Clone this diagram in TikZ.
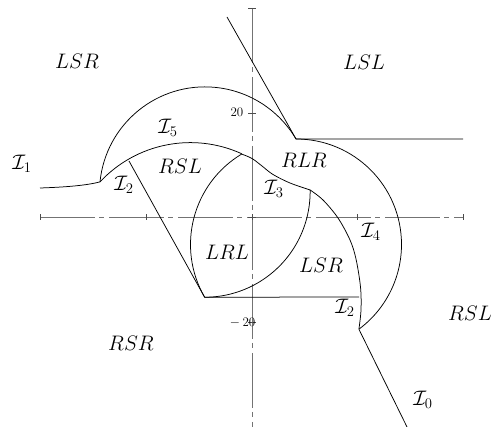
\RequirePackage{fix-cm}
\documentclass[tikz,border=0pt]{standalone}
\begin{document}
\begin{tikzpicture}[x=1pt,y=1pt]
\tikzset{
 curve/.style={black, line width=0.75pt},
 axisline/.style={draw=black!55, line width=0.9pt, dash pattern=on 55pt off 4pt on 5pt off 5pt},
 tickmark/.style={draw=black!70, line width=0.7pt},
 lab/.style={inner sep=0pt, font=\fontsize{21}{25}\selectfont},
 numlab/.style={inner sep=0pt, font=\fontsize{13}{15}\selectfont},
}
\useasboundingbox (0,0) rectangle (494,427);
% key points
\coordinate (O) at (252,210);
\coordinate (C1) at (204.6,235.2);
\coordinate (C2) at (296,182.5);
\coordinate (C3) at (190.4,160.8);
\coordinate (A) at ([shift={(137:123.6)}]C3);
\coordinate (K) at ([shift={(90:105.5)}]C2);
\coordinate (P) at ([shift={(-53.4:105.5)}]C2);
\coordinate (J) at ([shift={(121:105.5)}]C2);
\coordinate (B) at ([shift={(210:105.5)}]C2);
\coordinate (Q) at ([shift={(1:105.5)}]C1);
\coordinate (Ttop) at (227,410);
\coordinate (Kright) at (463,288);
\coordinate (Istart) at (40,239);
\coordinate (Ls) at (129,266);
\coordinate (Be) at (359,130);
\coordinate (Pend) at (407.5,-1);
% axes
\draw[axisline] (40,210) -- (463,210);
\draw[axisline] (252,419) -- (252,-1);
\foreach \x in {40,146,252,357,463} \draw[tickmark] (\x,207) -- (\x,213);
\foreach \y in {419,314,210,105} \draw[tickmark] (248,\y) -- (256,\y);
\node[numlab, anchor=east] (n20) at (243.5,315) {20};
\node[numlab, anchor=east] (nm20) at (255.5,104.3) {$-$\hspace{2.5pt}20};
% curves
\draw[curve] (Istart) .. controls (70,240) and (88,242) .. (A);
\draw[curve] (A) arc[start angle=174.3, end angle=30.4, radius=105.5];
\draw[curve] (K) arc[start angle=90, end angle=-53.4, radius=105.5];
\draw[curve] (J) arc[start angle=121, end angle=210, radius=105.5];
\draw[curve] (B) arc[start angle=-90, end angle=1, radius=105.5];
\draw[curve] (A) arc[start angle=137, end angle=65.4, radius=123.6];
\draw[curve] plot[smooth, tension=0.55] coordinates {(J) (252,268.5) (262,261) (273,252.5) (290,244) (Q)};
\draw[curve] plot[smooth, tension=0.55] coordinates {(Q) (323,227) (338,209) (350,187) (356,168) (360.5,140) (361,117) (P)};
\draw[curve] (Ttop) -- (K) -- (Kright);
\draw[curve] (Ls) -- (B) -- (Be);
\draw[curve] (P) -- (Pend);
% labels
\node[lab] (lsr1) at (77,366) {$LSR$};
\node[lab] (lsl) at (364,365) {$LSL$};
\node[lab] (i1) at (22,263) {$\mathcal{I}_1$};
\node[lab] (i5) at (168,299) {$\mathcal{I}_5$};
\node[lab] (rsl1) at (180,261) {$RSL$};
\node[lab] (i2a) at (124,242) {$\mathcal{I}_2$};
\node[lab] (rlr) at (304,267) {$RLR$};
\node[lab] (i3) at (274,238) {$\mathcal{I}_3$};
\node[lab] (i4) at (371,195) {$\mathcal{I}_4$};
\node[lab] (lrl) at (227,175) {$LRL$};
\node[lab] (lsr2) at (321,162) {$LSR$};
\node[lab] (i2b) at (345,119) {$\mathcal{I}_2$};
\node[lab] (rsl2) at (470,114) {$RSL$};
\node[lab] (rsr) at (131,84) {$RSR$};
\node[lab] (i0) at (423,27) {$\mathcal{I}_0$};
\end{tikzpicture}
\end{document}
